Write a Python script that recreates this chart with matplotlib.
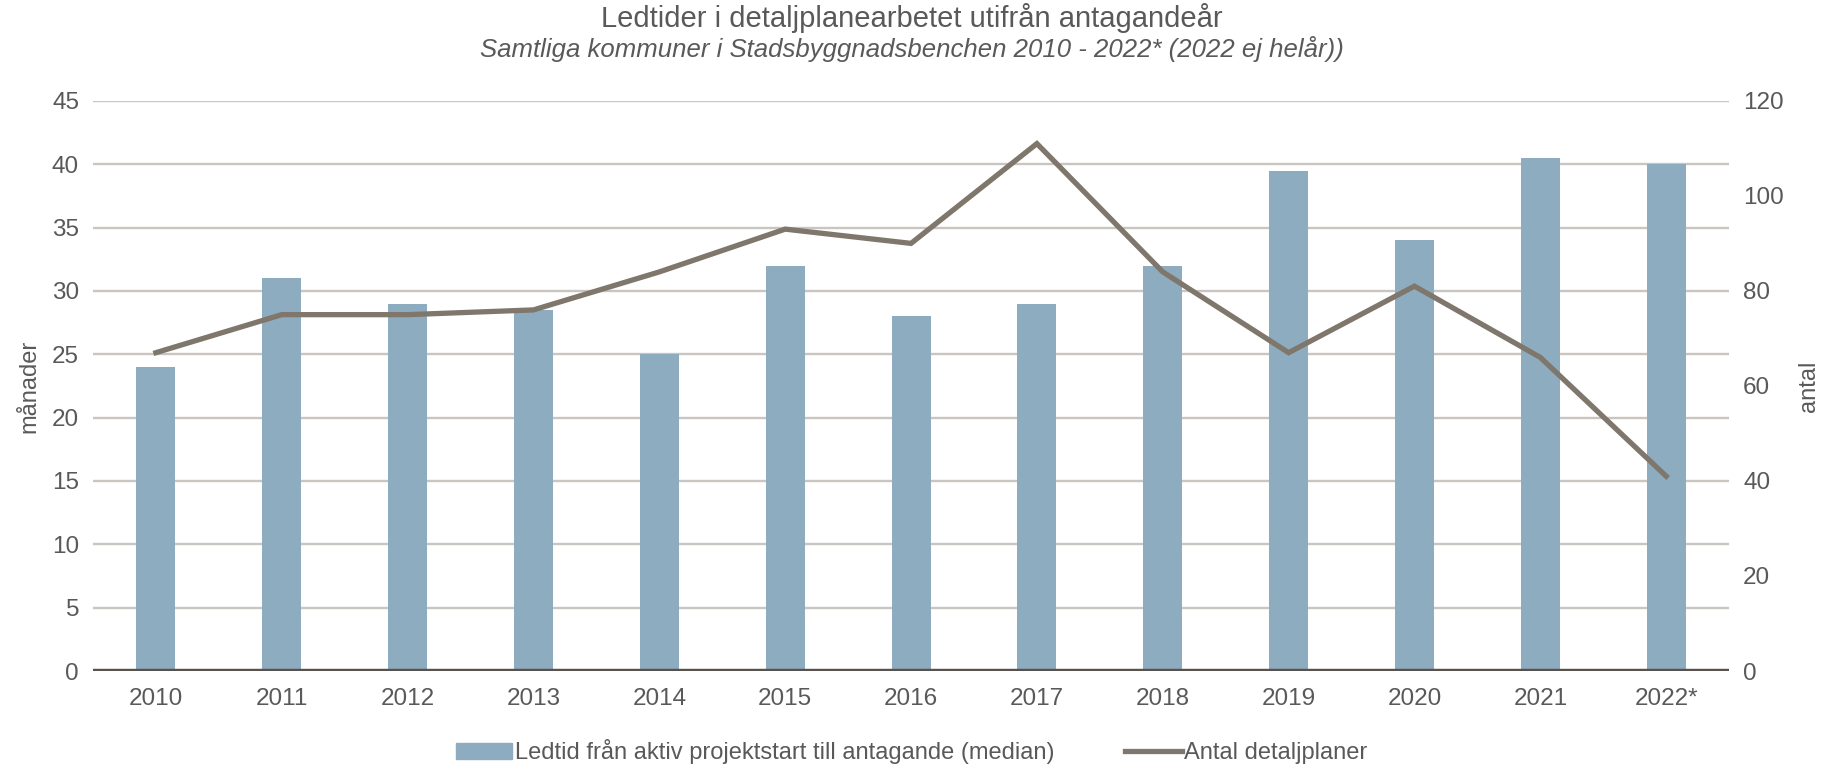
import numpy as np
import matplotlib.pyplot as plt
from matplotlib.lines import Line2D
from matplotlib.patches import Patch

plt.rcParams['font.family'] = ['Liberation Sans', 'DejaVu Sans']

# data
years = ["2010", "2011", "2012", "2013", "2014", "2015", "2016",
         "2017", "2018", "2019", "2020", "2021", "2022*"]
ledtid = [24, 31, 29, 28.5, 25, 32, 28, 29, 32, 39.5, 34, 40.5, 40]
antal = [67, 75, 75, 76, 84, 93, 90, 111, 84, 67, 81, 66, 41]

bar_color = "#8eacbf"
line_color = "#7f766c"
grid_color = "#c9c5c1"
text_color = "#595959"

fig = plt.figure(figsize=(18.23, 7.64), dpi=100)
ax = fig.add_axes([0.051, 0.1217, 0.8975, 0.7463])
ax2 = ax.twinx()

x = np.arange(len(years))
ax.bar(x, ledtid, width=0.31, color=bar_color, zorder=2)
ax2.plot(x, antal, color=line_color, lw=3.8, solid_joinstyle='miter', zorder=3)

ax.set_xlim(-0.5, len(years) - 0.5)
ax.set_ylim(0, 45)
ax.set_yticks(np.arange(0, 46, 5))
ax2.set_ylim(0, 120)
ax2.set_yticks(np.arange(0, 121, 20))
ax.set_xticks(x)
ax.set_xticklabels(years)

ax.grid(axis='y', color=grid_color, lw=1.7, zorder=0)
ax.set_axisbelow(True)
ax.axhline(0, color="#57524d", lw=3.2, zorder=4)

for a in (ax, ax2):
    for s in a.spines.values():
        s.set_visible(False)
    a.tick_params(length=0, labelsize=17.5, colors=text_color, pad=10)
ax.tick_params(axis='x', pad=12)

ax.set_ylabel("månader", fontsize=17, color=text_color, labelpad=8)
ax2.set_ylabel("antal", fontsize=17, color=text_color, labelpad=10)

fig.text(0.5, 0.976, "Ledtider i detaljplanearbetet utifrån antagandeår",
         ha='center', va='center', fontsize=21, color=text_color)
fig.text(0.5, 0.936, "Samtliga kommuner i Stadsbyggnadsbenchen 2010 - 2022* (2022 ej helår))",
         ha='center', va='center', fontsize=18.5, color=text_color, style='italic')

handles = [Patch(color=bar_color), Line2D([0], [0], color=line_color, lw=3.8)]
labels = ["Ledtid från aktiv projektstart till antagande (median)", "Antal detaljplaner"]
fig.legend(handles, labels, loc='center', bbox_to_anchor=(0.5, 0.016), ncol=2,
           frameon=False, fontsize=17, labelcolor=text_color, handlelength=2.4,
           handletextpad=0.1, columnspacing=3.0)

fig.savefig("out.png", dpi=100)
